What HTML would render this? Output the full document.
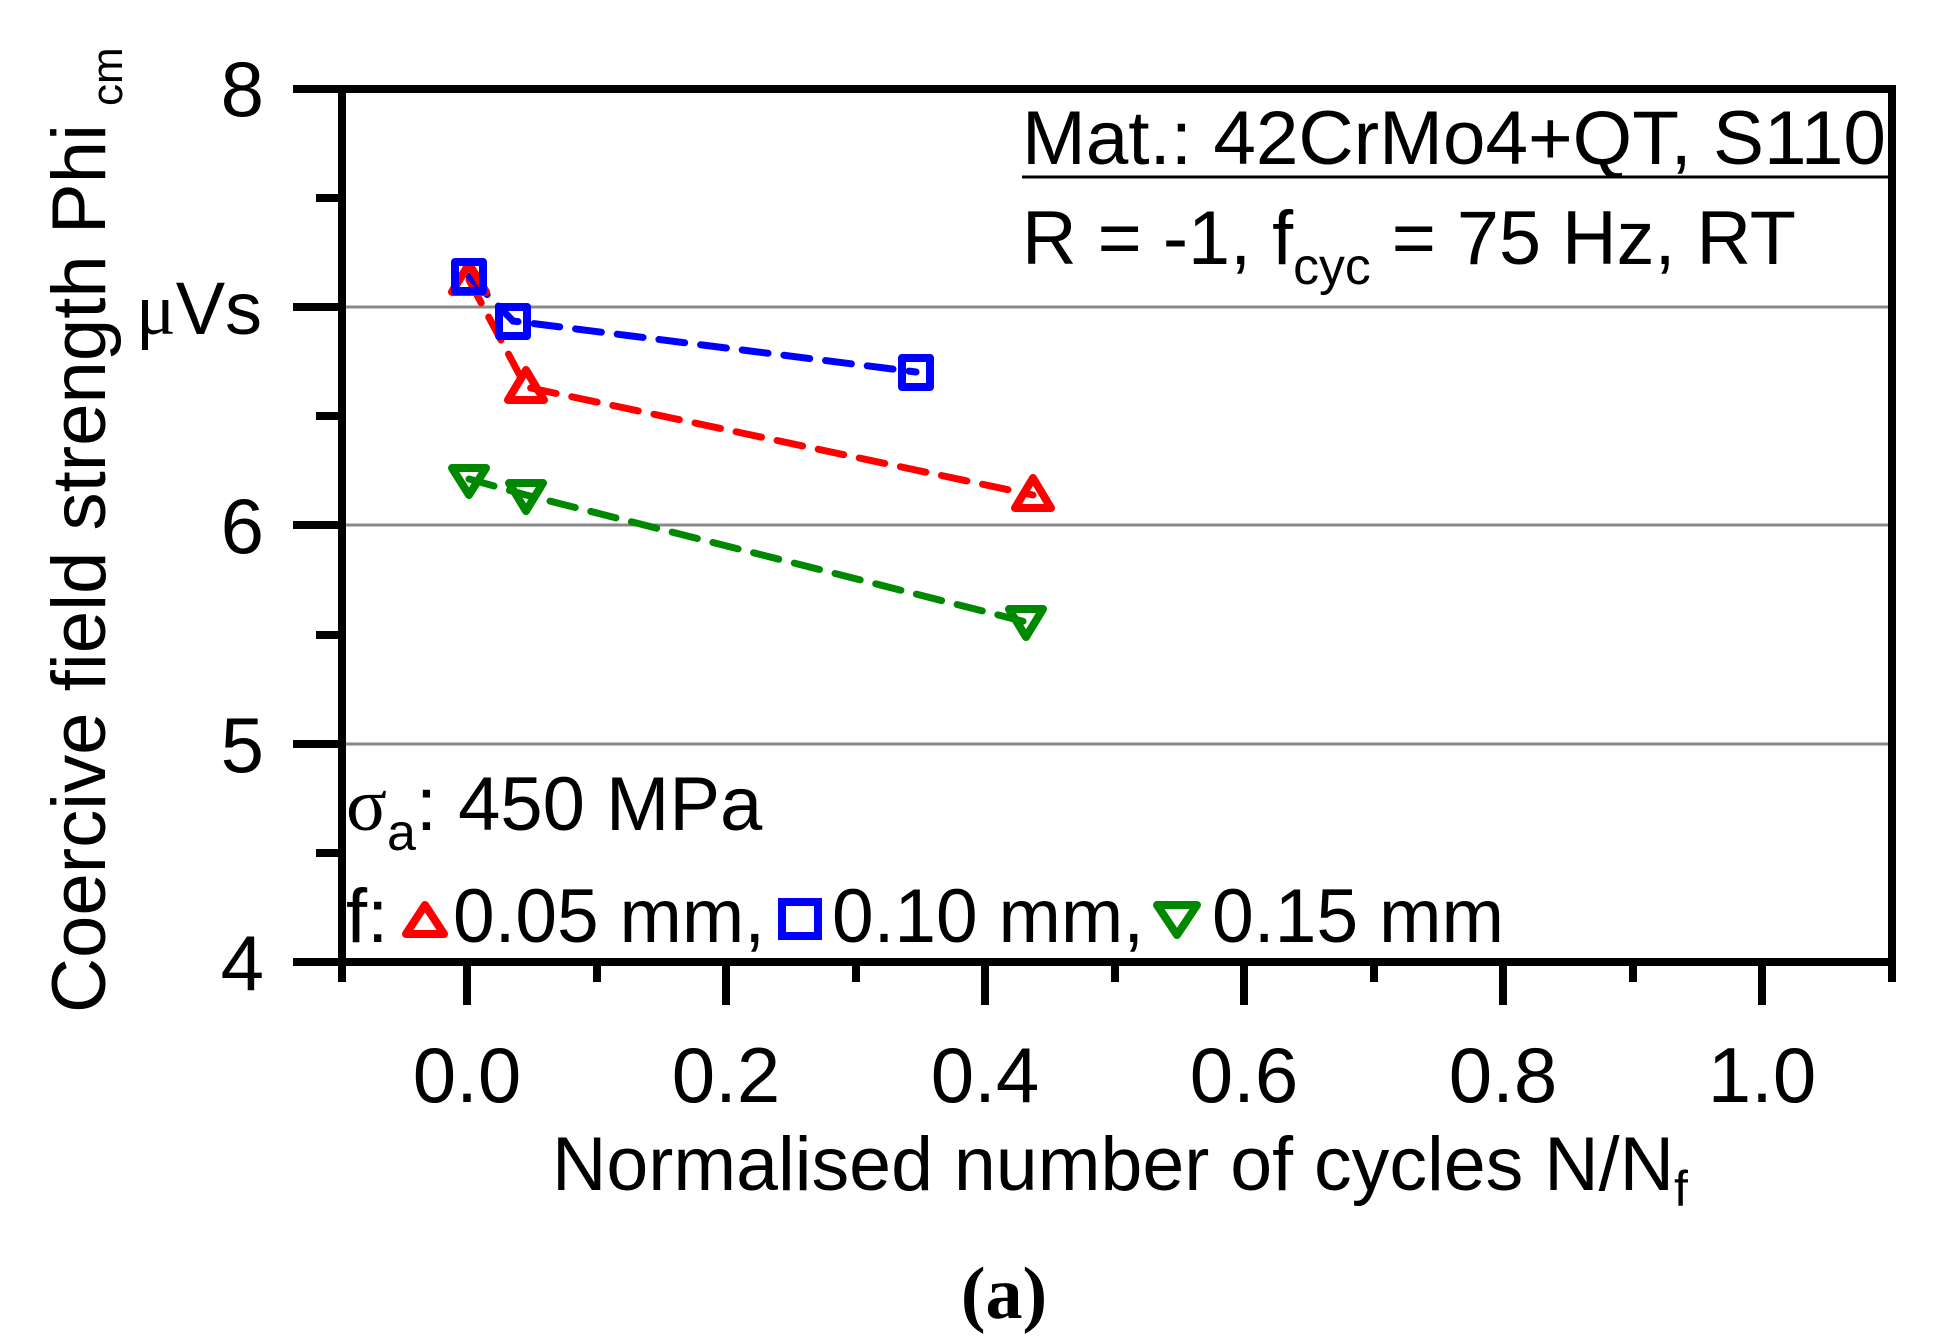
<!DOCTYPE html>
<html><head><meta charset="utf-8"><style>html,body{margin:0;padding:0;background:#fff}svg{display:block}</style></head>
<body>
<svg width="1939" height="1342" viewBox="0 0 1939 1342" xmlns="http://www.w3.org/2000/svg" font-family="Liberation Sans, Arial, sans-serif">
<rect width="1939" height="1342" fill="#fff"/>
<g stroke="#888" stroke-width="3">
<line x1="342" y1="307" x2="1892" y2="307"/>
<line x1="342" y1="525" x2="1892" y2="525"/>
<line x1="342" y1="744" x2="1892" y2="744"/>
</g>
<g stroke="#000" stroke-width="8" fill="none">
<line x1="293" y1="89" x2="1896" y2="89"/>
<line x1="293" y1="962" x2="1896" y2="962"/>
<line x1="342" y1="89" x2="342" y2="982"/>
<line x1="1892" y1="85" x2="1892" y2="982"/>
<line x1="293" y1="307" x2="342" y2="307"/>
<line x1="293" y1="525" x2="342" y2="525"/>
<line x1="293" y1="744" x2="342" y2="744"/>
<line x1="316" y1="198" x2="342" y2="198"/>
<line x1="316" y1="416" x2="342" y2="416"/>
<line x1="316" y1="635" x2="342" y2="635"/>
<line x1="316" y1="853" x2="342" y2="853"/>
<line x1="467" y1="962" x2="467" y2="1005"/>
<line x1="726" y1="962" x2="726" y2="1005"/>
<line x1="985" y1="962" x2="985" y2="1005"/>
<line x1="1244" y1="962" x2="1244" y2="1005"/>
<line x1="1503" y1="962" x2="1503" y2="1005"/>
<line x1="1762" y1="962" x2="1762" y2="1005"/>
<line x1="597" y1="962" x2="597" y2="982"/>
<line x1="856" y1="962" x2="856" y2="982"/>
<line x1="1115" y1="962" x2="1115" y2="982"/>
<line x1="1374" y1="962" x2="1374" y2="982"/>
<line x1="1633" y1="962" x2="1633" y2="982"/>
</g>
<g font-size="78" text-anchor="end" fill="#000">
<text x="264" y="116">8</text>
<text x="264" y="553">6</text>
<text x="264" y="772">5</text>
<text x="264" y="990">4</text>
</g>
<text x="136" y="334" font-size="74"><tspan font-family="Liberation Serif, serif">μ</tspan>Vs</text>
<g font-size="78" text-anchor="middle" fill="#000">
<text x="467" y="1102">0.0</text>
<text x="726" y="1102">0.2</text>
<text x="985" y="1102">0.4</text>
<text x="1244" y="1102">0.6</text>
<text x="1503" y="1102">0.8</text>
<text x="1762" y="1102">1.0</text>
</g>
<text x="552" y="1190" font-size="76" textLength="1122" lengthAdjust="spacingAndGlyphs">Normalised number of cycles N/N</text>
<text x="1674" y="1206" font-size="50">f</text>
<text transform="translate(105,1013) rotate(-90)" font-size="76" textLength="889" lengthAdjust="spacingAndGlyphs">Coercive field strength Phi</text>
<text transform="translate(122,106) rotate(-90)" font-size="44">cm</text>
<text x="1022" y="164" font-size="76" textLength="864" lengthAdjust="spacingAndGlyphs">Mat.: 42CrMo4+QT, S110</text>
<line x1="1022" y1="177" x2="1888" y2="177" stroke="#000" stroke-width="3"/>
<text x="1022" y="264" font-size="76" textLength="774" lengthAdjust="spacingAndGlyphs">R = -1, f<tspan font-size="52" dy="20">cyc</tspan><tspan dy="-20"> = 75 Hz, RT</tspan></text>
<text x="346" y="830" font-size="76"><tspan font-family="Liberation Serif, serif">σ</tspan><tspan font-size="52" dy="20">a</tspan><tspan dy="-20">: 450 MPa</tspan></text>
<text x="346" y="942" font-size="76">f:</text>
<text x="453" y="942" font-size="76" textLength="312" lengthAdjust="spacingAndGlyphs">0.05 mm,</text>
<text x="832" y="942" font-size="76" textLength="312" lengthAdjust="spacingAndGlyphs">0.10 mm,</text>
<text x="1212" y="942" font-size="76" textLength="292" lengthAdjust="spacingAndGlyphs">0.15 mm</text>
<polygon points="425,905 406,934 444,934" fill="none" stroke="#f00" stroke-width="8" stroke-linejoin="round"/>
<rect x="782" y="902" width="36" height="34" fill="none" stroke="#00f" stroke-width="8"/>
<polygon points="1157,905 1197,905 1177,935" fill="none" stroke="#080" stroke-width="8" stroke-linejoin="round"/>
<text x="1004" y="1318" font-size="74" font-family="Liberation Serif, serif" font-weight="bold" text-anchor="middle">(a)</text>
<g fill="none" stroke-width="7" stroke-dasharray="26,16" stroke-linecap="round">
<polyline points="469,280 526,387 1033,495" stroke="#f00"/>
<polyline points="469,276 513,321 916,372" stroke="#00f"/>
<polyline points="469,479 526,495 1026,622" stroke="#080"/>
</g>
<g fill="none" stroke-width="8" stroke-linejoin="round">
<polygon points="469,264 452,292 486,292" stroke="#f00"/>
<polygon points="526,370 508,400 544,400" stroke="#f00"/>
<polygon points="1033,478 1015,508 1051,508" stroke="#f00"/>
<rect x="455" y="262" width="28" height="29" stroke="#00f"/>
<rect x="499" y="307" width="28" height="29" stroke="#00f"/>
<rect x="902" y="358" width="28" height="29" stroke="#00f"/>
<polygon points="452,468 486,468 469,495" stroke="#080"/>
<polygon points="509,483 543,483 526,511" stroke="#080"/>
<polygon points="1009,609 1043,609 1026,637" stroke="#080"/>
</g>
</svg>
</body></html>
